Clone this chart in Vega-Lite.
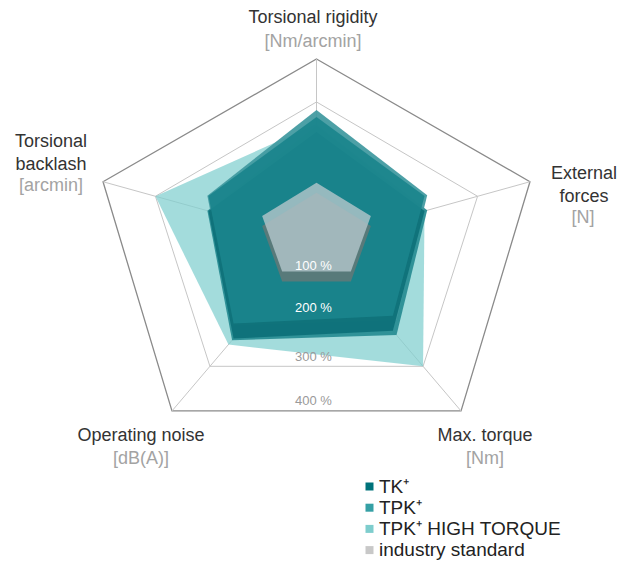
{
  "$schema": "https://vega.github.io/schema/vega-lite/v6.json",
  "width": 633,
  "height": 561,
  "padding": 0,
  "autosize": {"type": "none"},
  "background": "white",
  "config": {"view": {"stroke": null}, "font": "Liberation Sans"},
  "data": {"values": [
    {"k":"g","s":"r1","i":0,"v":100},{"k":"g","s":"r1","i":1,"v":100},{"k":"g","s":"r1","i":2,"v":100},{"k":"g","s":"r1","i":3,"v":100},{"k":"g","s":"r1","i":4,"v":100},
    {"k":"g","s":"r2","i":0,"v":200},{"k":"g","s":"r2","i":1,"v":200},{"k":"g","s":"r2","i":2,"v":200},{"k":"g","s":"r2","i":3,"v":200},{"k":"g","s":"r2","i":4,"v":200},
    {"k":"g","s":"r3","i":0,"v":300},{"k":"g","s":"r3","i":1,"v":300},{"k":"g","s":"r3","i":2,"v":300},{"k":"g","s":"r3","i":3,"v":300},{"k":"g","s":"r3","i":4,"v":300},
    {"k":"g","s":"r4","i":0,"v":400},{"k":"g","s":"r4","i":1,"v":400},{"k":"g","s":"r4","i":2,"v":400},{"k":"g","s":"r4","i":3,"v":400},{"k":"g","s":"r4","i":4,"v":400},
    {"k":"a","i":0,"v":400,"name":"Torsional rigidity","unit":"[Nm/arcmin]"},
    {"k":"a","i":1,"v":400,"name":"External\nforces","unit":"[N]"},
    {"k":"a","i":2,"v":400,"name":"Max. torque","unit":"[Nm]"},
    {"k":"a","i":3,"v":400,"name":"Operating noise","unit":"[dB(A)]"},
    {"k":"a","i":4,"v":400,"name":"Torsional\nbacklash","unit":"[arcmin]"},
    {"k":"p","i":0,"v":100,"t":"100 %"},
    {"k":"p","i":0,"v":200,"t":"200 %"},
    {"k":"p","i":0,"v":300,"t":"300 %"},
    {"k":"p","i":0,"v":400,"t":"400 %"},
    {"k":"s","s":"TK⁺","i":0,"v":232},{"k":"s","s":"TK⁺","i":1,"v":200},{"k":"s","s":"TK⁺","i":2,"v":218},{"k":"s","s":"TK⁺","i":3,"v":236},{"k":"s","s":"TK⁺","i":4,"v":200},
    {"k":"s","s":"TPK⁺","i":0,"v":248},{"k":"s","s":"TPK⁺","i":1,"v":205},{"k":"s","s":"TPK⁺","i":2,"v":228},{"k":"s","s":"TPK⁺","i":3,"v":240},{"k":"s","s":"TPK⁺","i":4,"v":202},
    {"k":"s","s":"TPK⁺ HIGH TORQUE","i":0,"v":250},{"k":"s","s":"TPK⁺ HIGH TORQUE","i":1,"v":200},{"k":"s","s":"TPK⁺ HIGH TORQUE","i":2,"v":300},{"k":"s","s":"TPK⁺ HIGH TORQUE","i":3,"v":250},{"k":"s","s":"TPK⁺ HIGH TORQUE","i":4,"v":300},
    {"k":"s","s":"industry standard","i":0,"v":100},{"k":"s","s":"industry standard","i":1,"v":100},{"k":"s","s":"industry standard","i":2,"v":100},{"k":"s","s":"industry standard","i":3,"v":100},{"k":"s","s":"industry standard","i":4,"v":100}
  ]},
  "transform": [
    {"calculate": "datum.i*2*PI/5", "as": "th"},
    {"calculate": "datum.v/400", "as": "R"},
    {"calculate": "datum.R*sin(datum.th)", "as": "u"},
    {"calculate": "-datum.R*cos(datum.th)", "as": "vv"},
    {"calculate": "1-0.08*datum.vv", "as": "w"},
    {"calculate": "230*datum.u/datum.w", "as": "X"},
    {"calculate": "-196.5*datum.vv/datum.w", "as": "Y"}
  ],
  "encoding": {
    "x": {"field": "X", "type": "quantitative", "scale": {"domain": [-316.5, 316.5], "nice": false, "zero": false}, "axis": null},
    "y": {"field": "Y", "type": "quantitative", "scale": {"domain": [-320, 241], "nice": false, "zero": false}, "axis": null}
  },
  "layer": [
    {"transform": [{"filter": "datum.k==='g' && datum.s!=='r4'"}],
     "mark": {"type": "line", "interpolate": "linear-closed", "stroke": "#c6c6c6", "strokeWidth": 1},
     "encoding": {"detail": {"field": "s"}, "order": {"field": "i"}}},
    {"transform": [{"filter": "datum.k==='g' && datum.s==='r4'"}],
     "mark": {"type": "line", "interpolate": "linear-closed", "stroke": "#8a8a8a", "strokeWidth": 1.3},
     "encoding": {"order": {"field": "i"}}},
    {"transform": [{"filter": "datum.k==='a'"}],
     "mark": {"type": "rule", "stroke": "#c6c6c6", "strokeWidth": 1},
     "encoding": {"x2": {"datum": 0}, "y2": {"datum": 0}}},
    {"transform": [{"filter": "datum.s==='TPK⁺ HIGH TORQUE'"}],
     "mark": {"type": "line", "interpolate": "linear-closed", "fill": "#7fcfcf", "fillOpacity": 0.72, "strokeWidth": 0},
     "encoding": {"order": {"field": "i"}}},
    {"transform": [{"filter": "datum.s==='TPK⁺'"}],
     "mark": {"type": "line", "interpolate": "linear-closed", "fill": "#2a8d93", "fillOpacity": 0.95, "strokeWidth": 0},
     "encoding": {"order": {"field": "i"}}},
    {"transform": [{"filter": "datum.s==='TPK⁺'"}, {"calculate": "datum.Y+15", "as": "Yt"}],
     "mark": {"type": "line", "interpolate": "linear-closed", "fill": "#3e989e", "fillOpacity": 0.92, "strokeWidth": 0},
     "encoding": {"y": {"field": "Yt", "type": "quantitative"}, "order": {"field": "i"}}},
    {"transform": [{"filter": "datum.s==='TK⁺'"}],
     "mark": {"type": "line", "interpolate": "linear-closed", "fill": "#0e7179", "fillOpacity": 0.95, "strokeWidth": 0},
     "encoding": {"order": {"field": "i"}}},
    {"transform": [{"filter": "datum.s==='TK⁺'"}, {"calculate": "datum.Y+15", "as": "Yt"}],
     "mark": {"type": "line", "interpolate": "linear-closed", "fill": "#1a848c", "fillOpacity": 0.92, "strokeWidth": 0},
     "encoding": {"y": {"field": "Yt", "type": "quantitative"}, "order": {"field": "i"}}},
    {"transform": [{"filter": "datum.s==='industry standard'"}],
     "mark": {"type": "line", "interpolate": "linear-closed", "fill": "#587a7a", "fillOpacity": 1, "strokeWidth": 0},
     "encoding": {"order": {"field": "i"}}},
    {"transform": [{"filter": "datum.s==='industry standard'"}, {"calculate": "datum.Y+10", "as": "Yt"}],
     "mark": {"type": "line", "interpolate": "linear-closed", "fill": "#b1c4c9", "fillOpacity": 0.82, "strokeWidth": 0},
     "encoding": {"y": {"field": "Yt", "type": "quantitative"}, "order": {"field": "i"}}},
    {"transform": [{"filter": "datum.k==='p' && datum.v<=200"}, {"calculate": "-196.5*0.809*datum.R/(1-0.08*0.809*datum.R)", "as": "Yp"}],
     "mark": {"type": "text", "color": "#ffffff", "fontSize": 13, "dx": -3, "dy": -15.5, "baseline": "middle", "align": "center"},
     "encoding": {"y": {"field": "Yp", "type": "quantitative"}, "text": {"field": "t"}}},
    {"transform": [{"filter": "datum.k==='p' && datum.v>200"}, {"calculate": "-196.5*0.809*datum.R/(1-0.08*0.809*datum.R)", "as": "Yp"}],
     "mark": {"type": "text", "color": "#9a9a9a", "fontSize": 13, "dx": -3, "dy": -9.5, "baseline": "middle", "align": "center"},
     "encoding": {"y": {"field": "Yp", "type": "quantitative"}, "text": {"field": "t"}}},
    {"transform": [{"filter": "datum.k==='a' && datum.i===0"}],
     "mark": {"type": "text", "color": "#333333", "fontSize": 18, "dx": -3.5, "dy": -41, "baseline": "middle", "align": "center"},
     "encoding": {"text": {"field": "name"}}},
    {"transform": [{"filter": "datum.k==='a' && datum.i===0"}],
     "mark": {"type": "text", "color": "#a3a3a3", "fontSize": 18, "dx": -3.5, "dy": -17, "baseline": "middle", "align": "center"},
     "encoding": {"text": {"field": "unit"}}},
    {"transform": [{"filter": "datum.k==='a' && datum.i===1"}],
     "mark": {"type": "text", "color": "#333333", "fontSize": 18, "dx": 54, "dy": -17, "baseline": "top", "align": "center", "lineBreak": "\n", "lineHeight": 23},
     "encoding": {"text": {"field": "name"}}},
    {"transform": [{"filter": "datum.k==='a' && datum.i===1"}],
     "mark": {"type": "text", "color": "#a3a3a3", "fontSize": 18, "dx": 53, "dy": 36, "baseline": "middle", "align": "center"},
     "encoding": {"text": {"field": "unit"}}},
    {"transform": [{"filter": "datum.k==='a' && datum.i===2"}],
     "mark": {"type": "text", "color": "#333333", "fontSize": 18, "dx": 24, "dy": 25, "baseline": "middle", "align": "center"},
     "encoding": {"text": {"field": "name"}}},
    {"transform": [{"filter": "datum.k==='a' && datum.i===2"}],
     "mark": {"type": "text", "color": "#a3a3a3", "fontSize": 18, "dx": 24, "dy": 48, "baseline": "middle", "align": "center"},
     "encoding": {"text": {"field": "unit"}}},
    {"transform": [{"filter": "datum.k==='a' && datum.i===3"}],
     "mark": {"type": "text", "color": "#333333", "fontSize": 18, "dx": -31, "dy": 25, "baseline": "middle", "align": "center"},
     "encoding": {"text": {"field": "name"}}},
    {"transform": [{"filter": "datum.k==='a' && datum.i===3"}],
     "mark": {"type": "text", "color": "#a3a3a3", "fontSize": 18, "dx": -31, "dy": 48, "baseline": "middle", "align": "center"},
     "encoding": {"text": {"field": "unit"}}},
    {"transform": [{"filter": "datum.k==='a' && datum.i===4"}],
     "mark": {"type": "text", "color": "#333333", "fontSize": 18, "dx": -52, "dy": -49, "baseline": "top", "align": "center", "lineBreak": "\n", "lineHeight": 23},
     "encoding": {"text": {"field": "name"}}},
    {"transform": [{"filter": "datum.k==='a' && datum.i===4"}],
     "mark": {"type": "text", "color": "#a3a3a3", "fontSize": 18, "dx": -52, "dy": 4, "baseline": "middle", "align": "center"},
     "encoding": {"text": {"field": "unit"}}},
    {"transform": [{"filter": "datum.k==='s'"}],
     "mark": {"type": "point", "filled": true, "opacity": 0, "size": 1},
     "encoding": {
       "color": {"field": "s", "type": "nominal",
         "scale": {"domain": ["TK⁺", "TPK⁺", "TPK⁺ HIGH TORQUE", "industry standard"], "range": ["#00727a", "#35a0a5", "#7ecdcd", "#c8c8c8"]},
         "legend": {"orient": "none", "legendX": 360, "legendY": 477, "title": null, "symbolType": "square", "symbolSize": 64, "symbolOpacity": 1, "symbolStrokeWidth": 0, "labelFontSize": 19, "labelFont": "Liberation Sans", "labelColor": "#222222", "labelOffset": 0, "rowPadding": 1.2, "padding": 0, "labelLimit": 300}}
     }}
  ]
}
